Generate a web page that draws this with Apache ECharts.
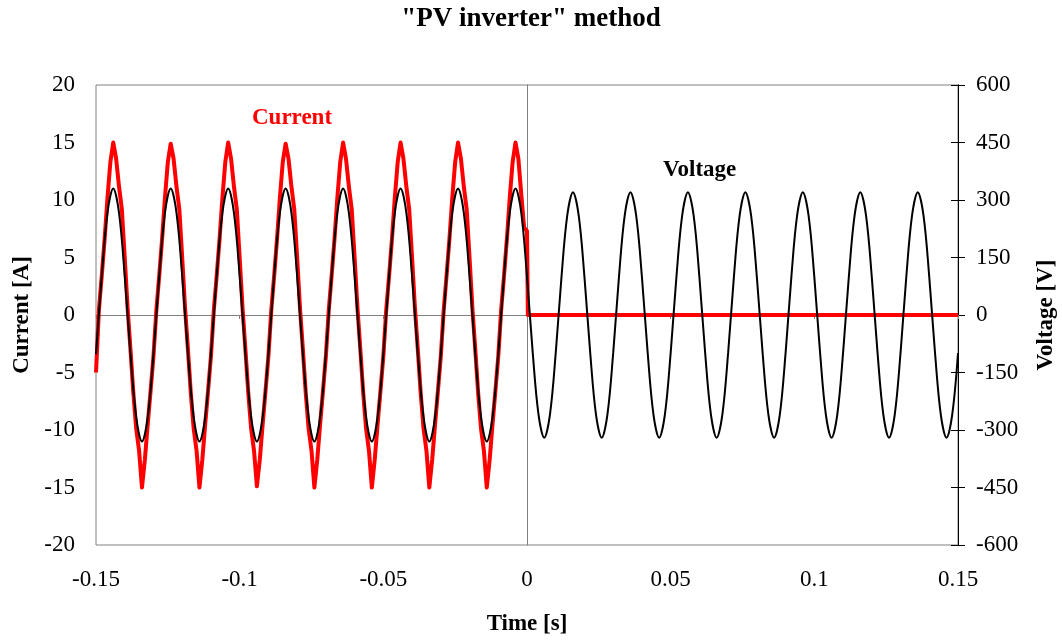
<!DOCTYPE html>
<html lang="en">
<head>
    <meta charset="UTF-8">
    <title>PV inverter method</title>
    <style>
        html, body { margin: 0; padding: 0; background: #fff; overflow: hidden; }
        #main { width: 1062px; height: 641px; }
    </style>
</head>
<body>
<div id="main"></div>

<script src="https://cdn.jsdelivr.net/npm/echarts@6/dist/echarts.min.js"></script>
<script>
    // time is kept in ms, labels are shown in s
    var timeStart = -150;
    var currentStep = 1;   // ms between current samples
    var voltageStep = 2;   // ms between voltage samples

    var xTicks = [-150, -100, -50, 0, 50, 100, 150];

    // current [A], -150 ms .. 0 ms
    var currentValues = [
        -5.0,
        0.4, 3.4, 6.6, 10.2, 13.3, 15.0, 13.6, 11.2, 9.2, 5.0, 0.6, -3.0, -6.8, -9.9, -11.8, -15.0, -12.6, -9.5, -6.6, -3.6,
        0.4, 3.4, 6.6, 10.2, 13.3, 14.9, 13.6, 11.2, 9.2, 5.0, 0.6, -3.0, -6.8, -9.9, -11.8, -15.0, -12.6, -9.5, -6.6, -3.6,
        0.4, 3.4, 6.6, 10.2, 13.3, 15.0, 13.6, 11.2, 9.2, 5.0, 0.6, -3.0, -6.8, -9.9, -11.8, -14.9, -12.6, -9.5, -6.6, -3.6,
        0.4, 3.4, 6.6, 10.2, 13.3, 14.9, 13.6, 11.2, 9.2, 5.0, 0.6, -3.0, -6.8, -9.9, -11.8, -15.0, -12.6, -9.5, -6.6, -3.6,
        0.4, 3.4, 6.6, 10.2, 13.3, 15.0, 13.6, 11.2, 9.2, 5.0, 0.6, -3.0, -6.8, -9.9, -11.8, -15.0, -12.6, -9.5, -6.6, -3.6,
        0.4, 3.4, 6.6, 10.2, 13.3, 15.0, 13.6, 11.2, 9.2, 5.0, 0.6, -3.0, -6.8, -9.9, -11.8, -15.0, -12.6, -9.5, -6.6, -3.6,
        0.4, 3.4, 6.6, 10.2, 13.3, 15.0, 13.6, 11.2, 9.2, 5.0, 0.6, -3.0, -6.8, -9.9, -11.8, -15.0, -12.6, -9.5, -6.6, -3.6,
        0.4, 3.4, 6.6, 10.2, 13.3, 15.0, 13.6, 10.5, 7.6, 7.3
    ];
    // after the inverter trips the current stays at zero
    var currentAfterTime = [0.3, 150];
    var currentAfterValues = [0, 0];

    // voltage [V], -150 ms .. 150 ms
    var voltageValues = [
        -102,
        102, 267, 330, 267, 102, -102, -267, -330, -267, -102,
        102, 267, 330, 267, 102, -102, -267, -330, -267, -102,
        102, 267, 330, 267, 102, -102, -267, -330, -267, -102,
        102, 267, 330, 267, 102, -102, -267, -330, -267, -102,
        102, 267, 330, 267, 102, -102, -267, -330, -267, -102,
        102, 267, 330, 267, 102, -102, -267, -330, -267, -102,
        102, 267, 330, 267, 102, -102, -267, -330, -267, -102,
        102, 267, 330, 267,
        100,
        -99, -259, -320, -259, -99, 99, 259, 320, 259, 99,
        -99, -259, -320, -259, -99, 99, 259, 320, 259, 99,
        -99, -259, -320, -259, -99, 99, 259, 320, 259, 99,
        -99, -259, -320, -259, -99, 99, 259, 320, 259, 99,
        -99, -259, -320, -259, -99, 99, 259, 320, 259, 99,
        -99, -259, -320, -259, -99, 99, 259, 320, 259, 99,
        -99, -259, -320, -259, -99, 99, 259, 320, 259, 99,
        -99, -259, -320, -259, -99
    ];

    var currentData = [];
    for (var i = 0; i < currentValues.length; i++) {
        currentData.push([timeStart + i * currentStep, currentValues[i]]);
    }
    for (var j = 0; j < currentAfterTime.length; j++) {
        currentData.push([currentAfterTime[j], currentAfterValues[j]]);
    }
    var voltageData = [];
    for (var k = 0; k < voltageValues.length; k++) {
        voltageData.push([timeStart + k * voltageStep, voltageValues[k]]);
    }

    var serif = 'Liberation Serif';
    var gray = '#808080';

    var myChart = echarts.init(document.getElementById('main'), null, {renderer: 'canvas', width: 1062, height: 641});
    var option = {
        animation: false,
        backgroundColor: '#fff',
        title: [
            {
                text: '"PV inverter" method',
                left: 'center',
                top: 1,
                textStyle: {fontFamily: serif, fontWeight: 'bold', fontSize: 27, color: '#000'}
            },
            {
                text: 'Current',
                left: 247,
                top: 102,
                textStyle: {fontFamily: serif, fontWeight: 'bold', fontSize: 23, color: '#ff0000'}
            },
            {
                text: 'Voltage',
                left: 658,
                top: 154,
                textStyle: {fontFamily: serif, fontWeight: 'bold', fontSize: 23, color: '#000'}
            }
        ],
        grid: {
            left: 96,
            right: 104,
            top: 85,
            bottom: 96,
            outerBoundsMode: 'none',
            show: true,
            borderColor: gray,
            borderWidth: 1
        },
        xAxis: [
            {
                type: 'value',
                min: xTicks[0],
                max: xTicks[xTicks.length - 1],
                interval: xTicks[1] - xTicks[0],
                position: 'bottom',
                axisLine: {show: false, onZero: false},
                axisTick: {show: false},
                splitLine: {show: false},
                axisLabel: {
                    margin: 23,
                    fontFamily: serif,
                    fontSize: 23,
                    color: '#000',
                    formatter: function (v) { return String(v / 1000); }
                },
                name: 'Time [s]',
                nameLocation: 'middle',
                nameGap: 68,
                nameTextStyle: {fontFamily: serif, fontWeight: 'bold', fontSize: 23, color: '#000'}
            },
            {
                // zero line with its ticks
                type: 'value',
                min: xTicks[0],
                max: xTicks[xTicks.length - 1],
                interval: xTicks[1] - xTicks[0],
                position: 'bottom',
                axisLine: {show: true, onZero: true, onZeroAxisIndex: 0, lineStyle: {color: gray, width: 1}},
                axisTick: {show: true, length: 4, lineStyle: {color: gray}},
                axisLabel: {show: false},
                splitLine: {show: false}
            }
        ],
        yAxis: [
            {
                type: 'value',
                min: -20,
                max: 20,
                interval: 5,
                position: 'left',
                axisLine: {show: false, onZero: false},
                axisTick: {show: false},
                splitLine: {show: false},
                axisLabel: {margin: 21, fontFamily: serif, fontSize: 23, color: '#000'},
                name: 'Current [A]',
                nameLocation: 'middle',
                nameRotate: 90,
                nameGap: 58,
                nameTextStyle: {fontFamily: serif, fontWeight: 'bold', fontSize: 23, color: '#000'}
            },
            {
                type: 'value',
                min: -600,
                max: 600,
                interval: 150,
                position: 'right',
                axisLine: {show: true, onZero: false, lineStyle: {color: '#000', width: 1}},
                axisTick: {show: true, length: 7, lineStyle: {color: '#000'}},
                splitLine: {show: false},
                axisLabel: {margin: 18, fontFamily: serif, fontSize: 23, color: '#000'},
                name: 'Voltage [V]',
                nameLocation: 'middle',
                nameRotate: 90,
                nameGap: 77,
                nameTextStyle: {fontFamily: serif, fontWeight: 'bold', fontSize: 23, color: '#000'}
            },
            {
                // inner half of the crossing ticks on the right
                type: 'value',
                min: -600,
                max: 600,
                interval: 150,
                position: 'right',
                axisLine: {show: true, onZero: false, lineStyle: {color: '#000', width: 1}},
                axisTick: {show: true, inside: true, length: 7, lineStyle: {color: '#000'}},
                axisLabel: {show: false},
                splitLine: {show: false}
            },
            {
                // vertical line at t = 0
                type: 'value',
                min: -20,
                max: 20,
                position: 'left',
                axisLine: {show: true, onZero: true, onZeroAxisIndex: 0, lineStyle: {color: gray, width: 1}},
                axisTick: {show: false},
                axisLabel: {show: false},
                splitLine: {show: false}
            }
        ],
        series: [
            {
                name: 'Current',
                type: 'line',
                xAxisIndex: 0,
                yAxisIndex: 0,
                data: currentData,
                showSymbol: false,
                symbol: 'none',
                lineStyle: {color: '#ff0000', width: 4, join: 'round'}
            },
            {
                name: 'Voltage',
                type: 'line',
                xAxisIndex: 0,
                yAxisIndex: 1,
                data: voltageData,
                showSymbol: false,
                symbol: 'none',
                smooth: 0.35,
                lineStyle: {color: '#000', width: 2}
            }
        ]
    };

    myChart.setOption(option);
</script>
</body>
</html>
